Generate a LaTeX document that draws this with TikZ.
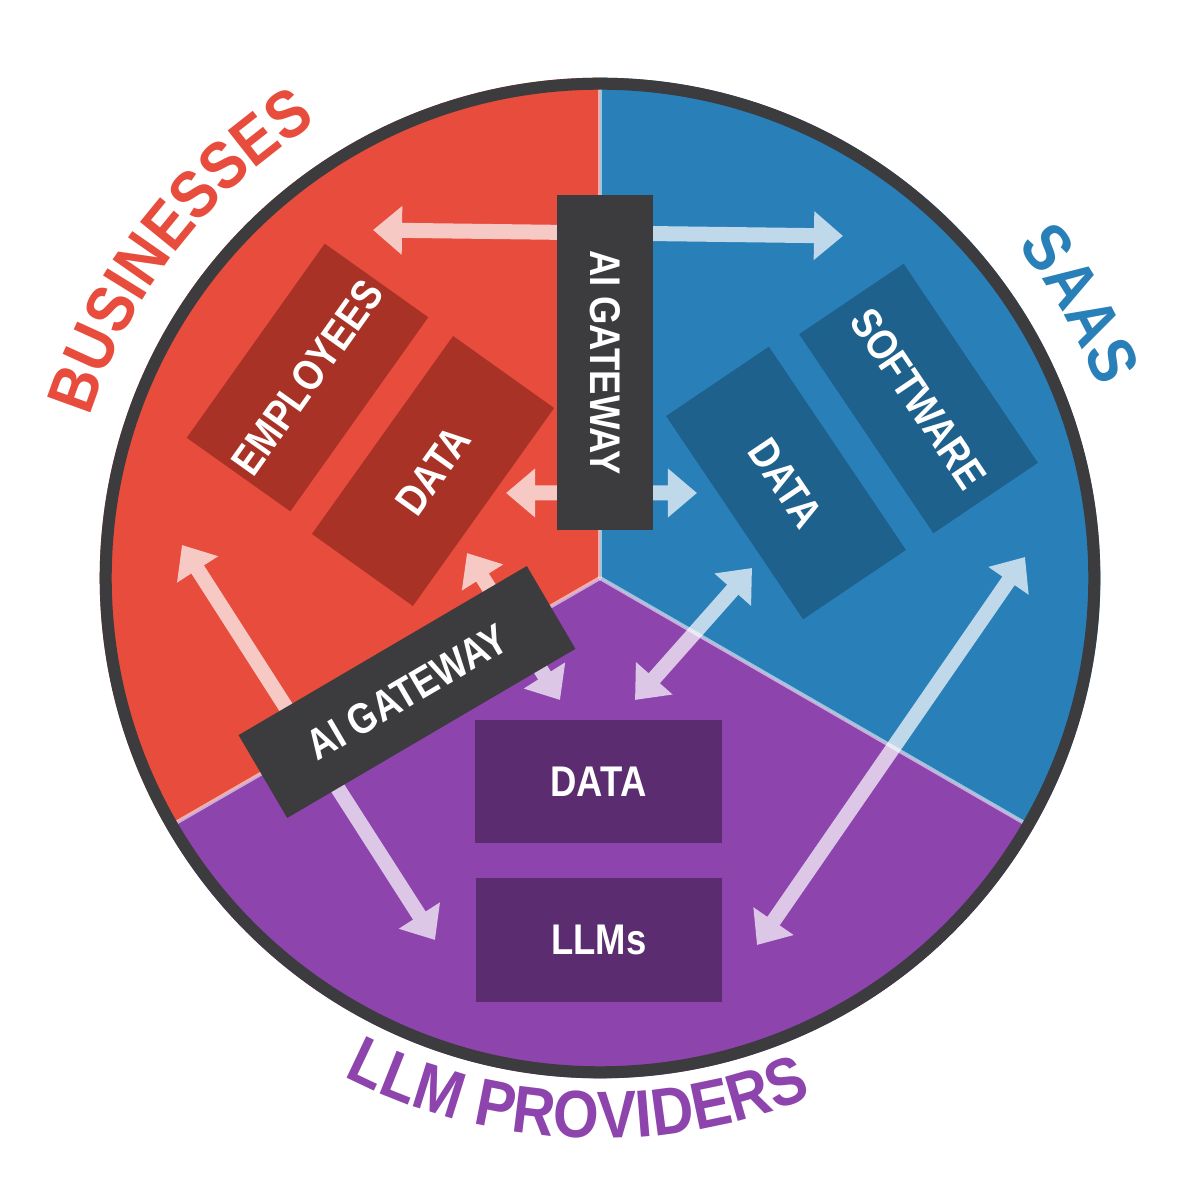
\documentclass[tikz,border=0pt]{standalone}
\usepackage{fontspec}
\setmainfont{Liberation Sans}[FakeStretch=0.88]
\newfontfamily\innerfam{Liberation Sans}[FakeStretch=0.85]
\usetikzlibrary{arrows.meta,decorations.text}
\definecolor{cred}{HTML}{E74C3C}
\definecolor{cblue}{HTML}{2980B9}
\definecolor{cpurple}{HTML}{8E44AD}
\definecolor{dred}{HTML}{A93226}
\definecolor{dblue}{HTML}{1F618D}
\definecolor{dpurple}{HTML}{5B2C6F}
\definecolor{gwgray}{HTML}{3C3B3D}
\newcommand\inlab{\innerfam\bfseries\fontsize{12.2}{14}\selectfont}
\newcommand\biglab{\bfseries\fontsize{19}{22}\selectfont}
\begin{document}
\begin{tikzpicture}[x=0.01cm,y=0.01cm,
  inbox/.style={fill=#1, text=white, font=\inlab, inner sep=0pt, align=center},
  gwbox/.style={fill=gwgray, text=white, font=\inlab, inner sep=0pt, minimum width=3.34cm, minimum height=0.96cm},
  flow/.style={draw=white, line width=0.15cm, {Triangle[width=0.47cm,length=0.29cm]}-{Triangle[width=0.47cm,length=0.29cm]}},
  divider/.style={draw=white, draw opacity=0.55, line width=0.04cm},
  arclabel/.style={decorate, decoration={text along path, text align=center, text={|\biglab|#1}}}
]
\useasboundingbox (0,0) rectangle (1200,1200);
\fill[white] (0,0) rectangle (1200,1200);
\coordinate (C) at (600,622);
% sectors
\fill[cred] (C) -- ++(90:5cm) arc[start angle=90, end angle=210, radius=5cm] -- cycle;
\fill[cpurple] (C) -- ++(210:5cm) arc[start angle=210, end angle=330, radius=5cm] -- cycle;
\fill[cblue] (C) -- ++(330:5cm) arc[start angle=330, end angle=450, radius=5cm] -- cycle;
% dividers
\draw[divider] (C) -- ++(90:4.9cm);
\draw[divider] (C) -- ++(210:4.9cm);
\draw[divider] (C) -- ++(330:4.9cm);
% content boxes
\node[inbox=dred, minimum width=2.38cm, minimum height=1.27cm, rotate=54.6] (emp) at (307.5,822.5) {EMPLOYEES};
\node[inbox=dred, minimum width=2.43cm, minimum height=1.24cm, rotate=54.5] (rdata) at (433,729) {DATA};
\node[inbox=dblue, minimum width=2.40cm, minimum height=1.26cm, rotate=-56] (soft) at (918.5,801.5) {SOFTWARE};
\node[inbox=dblue, minimum width=2.45cm, minimum height=1.24cm, rotate=-56] (bdata) at (786,717) {DATA};
\node[inbox=dpurple, minimum width=2.47cm, minimum height=1.23cm] (pdata) at (598.5,418.5) {DATA};
\node[inbox=dpurple, minimum width=2.46cm, minimum height=1.24cm] (llms) at (599,260) {LLMs};
% arrow end points
\coordinate (a1) at (373,970); \coordinate (a2) at (843,964);
\coordinate (b1) at (506,707); \coordinate (b2) at (697,707);
\coordinate (c1) at (182,655); \coordinate (c2) at (435,260);
\coordinate (e1) at (467,647); \coordinate (e2) at (560,500);
\coordinate (f1) at (635,500); \coordinate (f2) at (752,632);
\coordinate (g1) at (1025,643); \coordinate (g2) at (757,255);
\begin{scope}[transparency group, opacity=0.7]
\draw[flow] (a1) -- (a2);
\draw[flow] (b1) -- (b2);
\draw[flow] (c1) -- (c2);
\draw[flow] (e1) -- (e2);
\draw[flow] (f1) -- (f2);
\draw[flow] (g1) -- (g2);
\end{scope}
% gateways
\node[gwbox, rotate=-90] (gw1) at (605,837.5) {AI GATEWAY};
\node[gwbox, rotate=30.4] (gw2) at (407,508) {AI GATEWAY};
% border
\draw[gwgray, line width=0.12cm] (C) circle[radius=4.94cm];
% arc labels
\path[arclabel=BUSINESSES, decoration={text color=cred}, shift={(600,622)}] (180:5.35cm) arc[start angle=180, end angle=104.3, radius=5.35cm];
\path[arclabel=SAAS, decoration={text color=cblue}, shift={(600,622)}] (59.4:5.33cm) arc[start angle=59.4, end angle=0, radius=5.33cm];
\path[arclabel={LLM PROVIDERS}, decoration={text color=cpurple}, shift={(600,622)}] (225:5.6cm) arc[start angle=225, end angle=310, radius=5.6cm];
\end{tikzpicture}
\end{document}
